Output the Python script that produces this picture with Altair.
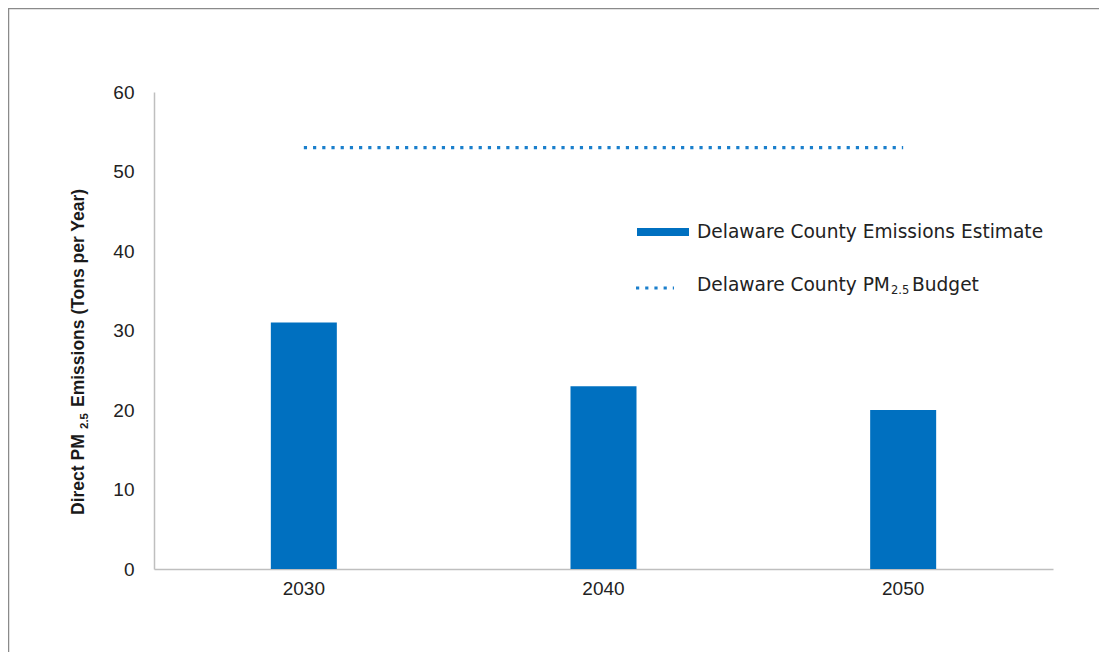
import altair as alt
import pandas as pd

years = ["2030", "2040", "2050"]
emissions = [31, 23, 20]
budget = [53, 53, 53]
y_ticks = [0, 10, 20, 30, 40, 50, 60]
legend_bar_label = "Delaware County Emissions Estimate"
legend_line_parts = ["Delaware County PM", "2.5", "Budget"]
y_title_parts = ["Direct PM", "2.5", "Emissions (Tons per Year)"]

df = pd.DataFrame({"year": years, "emissions": emissions, "budget": budget})

W, H = 899, 477
BLUE = "#0070C0"
DOT = "#1A7FCC"
FONT = "Liberation Sans"
LEG_FONT = "DejaVu Sans"

x_enc = alt.X(
    "year:O", title=None,
    scale=alt.Scale(paddingInner=0, paddingOuter=0),
    axis=alt.Axis(labelAngle=0, labelFont=FONT, labelFontSize=19, labelColor="#222222",
                  labelPadding=10, ticks=False, domainColor="#BFBFBF", domainWidth=1.5),
)
y_axis = alt.Axis(values=y_ticks, grid=False, ticks=False, labelPadding=20, labelFont=FONT,
                  labelFontSize=19, labelColor="#222222", domainColor="#BFBFBF", domainWidth=1.5)

bars = alt.Chart(df).mark_bar(size=66, color=BLUE).encode(
    x=x_enc,
    y=alt.Y("emissions:Q", title=None, scale=alt.Scale(domain=[0, 60]), axis=y_axis),
)

line = alt.Chart(df).mark_line(color=DOT, strokeWidth=3.2, strokeDash=[3.2, 6]).encode(
    x=x_enc,
    y=alt.Y("budget:Q", title=None),
)


def one(text):
    return alt.Chart(pd.DataFrame({"t": [text]}))


def label(text, x, y, **kw):
    return one(text).mark_text(**kw).encode(x=alt.value(x), y=alt.value(y), text="t:N")


def rule(x1, x2, y1, y2, **kw):
    return one("r").mark_rule(**kw).encode(
        x=alt.value(x1), x2=alt.value(x2), y=alt.value(y1), y2=alt.value(y2)
    )


title_kw = dict(angle=270, align="left", baseline="alphabetic", font=FONT,
                fontWeight="bold", color="#1a1a1a")
t1 = label(y_title_parts[0], -70, 423, fontSize=17.5, **title_kw)
t2 = label(y_title_parts[1], -66, 337, fontSize=11.5, **title_kw)
t3 = label(y_title_parts[2], -70, 315, fontSize=17.5, **title_kw)

leg_kw = dict(align="left", baseline="middle", font=LEG_FONT, color="#222222")
leg_bar = rule(483, 535, 140, 140, color=BLUE, strokeWidth=8)
leg_bar_t = label(legend_bar_label, 543, 140, fontSize=18.6, **leg_kw)
leg_dot = rule(482, 520, 196, 196, color=DOT, strokeWidth=3.2, strokeDash=[3.2, 6])
leg_dot_t1 = label(legend_line_parts[0], 543, 193, fontSize=18.6, **leg_kw)
leg_dot_t2 = label(legend_line_parts[1], 737, 199, fontSize=11.5, **leg_kw)
leg_dot_t3 = label(legend_line_parts[2], 758, 193, fontSize=18.6, **leg_kw)

frame_top = rule(-146, 945, -83.5, -83.5, color="#8a8a8a", strokeWidth=1.5)
frame_left = rule(-145.5, -145.5, -84, 560, color="#8a8a8a", strokeWidth=1.5)

chart = alt.layer(
    bars, line, t1, t2, t3, leg_bar, leg_bar_t, leg_dot, leg_dot_t1, leg_dot_t2, leg_dot_t3,
    frame_top, frame_left,
).properties(
    width=W, height=H,
    autosize=alt.AutoSizeParams(type="none"),
    padding={"left": 146, "top": 84, "right": 46, "bottom": 83},
    background="white",
).configure_view(stroke=None)

chart.save("out.html", embed_options={"renderer": "svg", "actions": False})
